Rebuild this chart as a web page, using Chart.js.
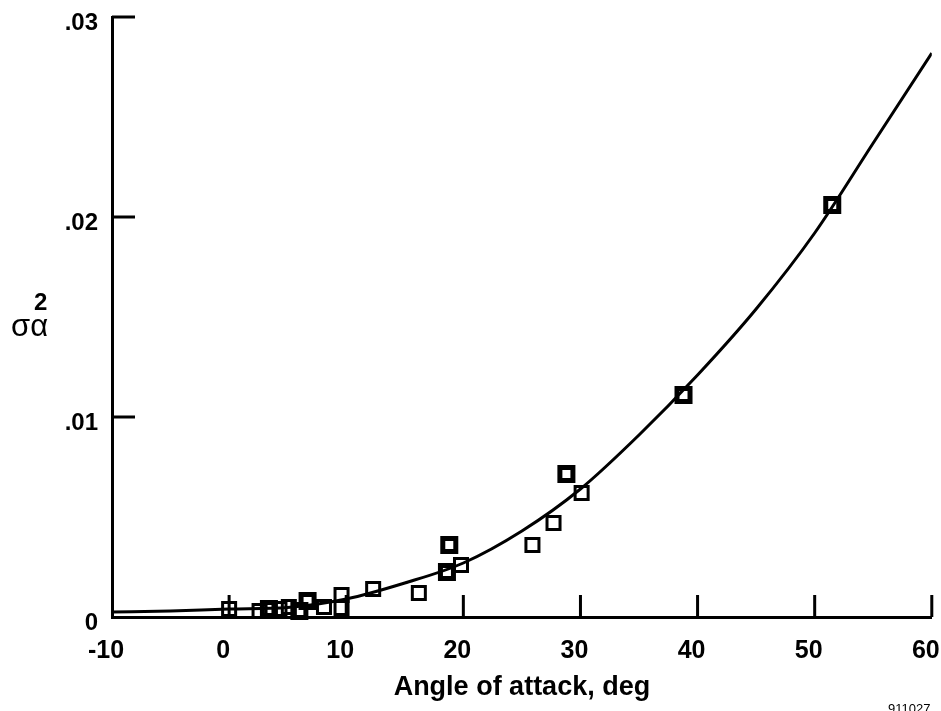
<!DOCTYPE html>
<html>
<head>
<meta charset="utf-8">
<script src="https://cdn.jsdelivr.net/npm/chart.js@4"></script>
<style>
  html, body { margin: 0; background: #fff; overflow: hidden; }
</style>
</head>
<body>
<canvas id="chart" width="946" height="711"></canvas>
<script>
// fitted curve
const curveX = [-10, -5, 0, 5, 10, 15, 20, 25, 30, 35, 40, 45, 50, 55, 60]
const curveY = [0.00025, 0.0003, 0.0004, 0.00048, 0.0009, 0.0017, 0.0027, 0.0043, 0.0064, 0.0091, 0.0121, 0.0154, 0.0192, 0.0237, 0.0282]

// single plotted squares
const singleX = [0, 2.6, 4.3, 5.1, 8.1, 9.6, 9.6, 12.3, 16.2, 19.8, 25.9, 27.7, 30.1]
const singleY = [0.0004, 0.0003, 0.0004, 0.0005, 0.0005, 0.0011, 0.00045, 0.0014, 0.0012, 0.0026, 0.0036, 0.0047, 0.0062]

// squares plotted twice (heavier outline)
const doubleX = [3.4, 6.0, 6.7, 18.6, 18.8, 28.8, 38.8, 51.5]
const doubleY = [0.0004, 0.0003, 0.0008, 0.00225, 0.0036, 0.00715, 0.0111, 0.0206]

const xTickLabels = ['-10', '0', '10', '20', '30', '40', '50', '60']
const yTickLabels = ['0', '.01', '.02', '.03']

const toPoints = (xs, ys) => xs.map((x, i) => ({ x: x, y: ys[i] }))

// ticks on this chart point inwards, so draw them from the scales
const innerTicks = {
  id: 'innerTicks',
  beforeDatasetsDraw(chart) {
    const { ctx, scales: { x, y } } = chart
    ctx.save()
    ctx.strokeStyle = '#000'
    ctx.lineWidth = 3
    ctx.beginPath()
    x.ticks.forEach(t => {
      if (t.value === x.min) return
      const px = x.getPixelForValue(t.value)
      ctx.moveTo(px, y.bottom)
      ctx.lineTo(px, y.bottom - 22)
    })
    y.ticks.forEach(t => {
      if (t.value === y.min) return
      const py = y.getPixelForValue(t.value)
      ctx.moveTo(x.left, py)
      ctx.lineTo(x.left + 23, py)
    })
    ctx.stroke()
    ctx.restore()
  }
}

const labels = {
  id: 'labels',
  afterDraw(chart) {
    const ctx = chart.ctx
    ctx.save()
    ctx.fillStyle = '#000'
    ctx.textBaseline = 'alphabetic'
    ctx.textAlign = 'left'
    ctx.font = '31px "Liberation Sans", Arial, sans-serif'
    ctx.fillText('σα', 11, 336)
    ctx.font = 'bold 24px "Liberation Sans", Arial, sans-serif'
    ctx.fillText('2', 34, 310)
    ctx.font = '13px "Liberation Sans", Arial, sans-serif'
    ctx.fillText('911027', 888, 713)
    ctx.restore()
  }
}

Chart.defaults.font.family = '"Liberation Sans", Arial, sans-serif'
Chart.defaults.color = '#000'

new Chart(document.getElementById('chart'), {
  type: 'scatter',
  data: {
    datasets: [
      {
        type: 'line',
        data: toPoints(curveX, curveY),
        borderColor: '#000',
        borderWidth: 3,
        pointRadius: 0,
        cubicInterpolationMode: 'monotone',
        fill: false
      },
      {
        data: toPoints(singleX, singleY),
        pointStyle: 'rect',
        pointRadius: 9.2,
        borderColor: '#000',
        borderWidth: 3,
        backgroundColor: 'rgba(0,0,0,0)',
        clip: false
      },
      {
        data: toPoints(doubleX, doubleY),
        pointStyle: 'rect',
        pointRadius: 9.2,
        borderColor: '#000',
        borderWidth: 5,
        backgroundColor: 'rgba(0,0,0,0)',
        clip: false
      }
    ]
  },
  options: {
    responsive: false,
    animation: false,
    layout: { padding: { left: 0, right: 0, top: 17, bottom: 0 } },
    plugins: {
      legend: { display: false },
      tooltip: { enabled: false }
    },
    scales: {
      x: {
        type: 'linear',
        min: -10,
        max: 60,
        grid: { display: false, drawTicks: false },
        border: { color: '#000', width: 3 },
        ticks: {
          stepSize: 10,
          padding: 19,
          labelOffset: -6,
          font: { size: 25, weight: 'bold' },
          callback: v => xTickLabels[Math.round((v + 10) / 10)]
        },
        title: {
          display: true,
          text: 'Angle of attack, deg',
          font: { size: 27, weight: 'bold' },
          padding: { top: 0, bottom: 7 }
        },
        afterFit: s => {
          s.height = 94
          s.paddingLeft = 0
          s.paddingRight = 0
        }
      },
      y: {
        min: 0,
        max: 0.03,
        grid: { display: false, drawTicks: false },
        border: { color: '#000', width: 3 },
        ticks: {
          stepSize: 0.01,
          padding: 14,
          labelOffset: 6,
          font: { size: 24, weight: 'bold' },
          callback: v => yTickLabels[Math.round(v * 100)]
        },
        afterFit: s => {
          s.width = 112
          s.paddingTop = 0
          s.paddingBottom = 0
        }
      }
    }
  },
  plugins: [innerTicks, labels]
})
</script>
</body>
</html>
